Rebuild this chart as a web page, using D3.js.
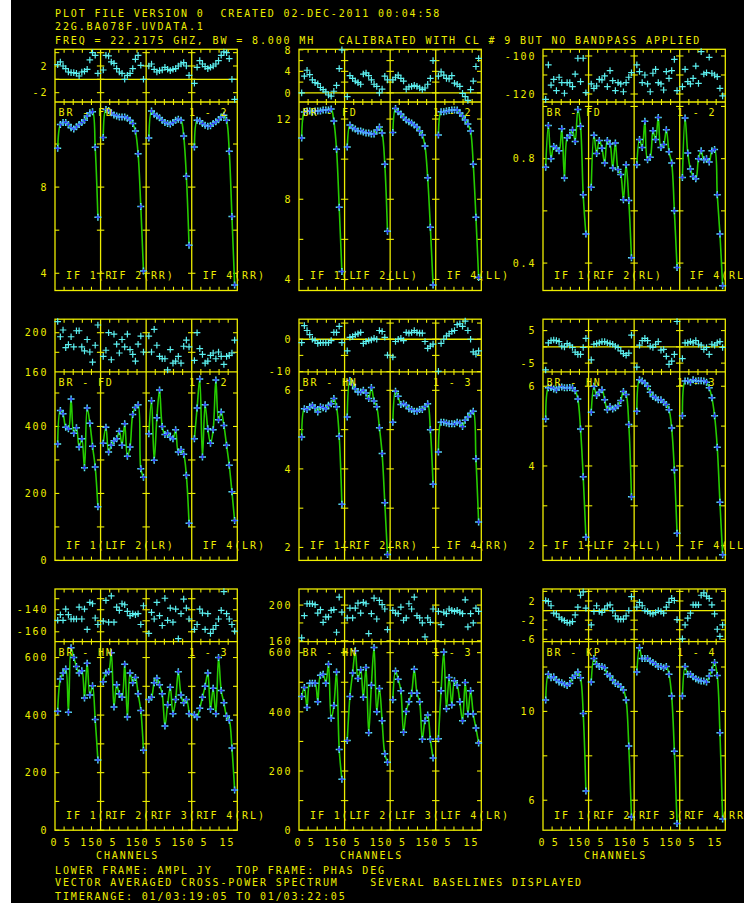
<!DOCTYPE html>
<html><head><meta charset="utf-8">
<script src="https://cdn.jsdelivr.net/npm/d3@7"></script>
<style>html,body{margin:0;padding:0;background:#fff;} svg{display:block} text{white-space:pre}</style>
</head><body>
<script>
// ---------------- DATA (4 IFs x 16 channels each) ----------------
const channels = [1,2,3,4,5,6,7,8,9,10,11,12,13,14,15,16];
const ifNames = ["IF 1","IF 2","IF 3","IF 4"];
const xTickLabels = [0,5,15];

const ampFD_RR = [9.8,10.9,11.0,11.0,10.9,10.75,10.7,10.8,10.9,11.0,11.1,11.3,11.45,11.5,9.85,6.6,
 10.3,11.6,11.55,11.45,11.35,11.3,11.25,11.25,11.25,11.2,11.1,10.95,10.6,9.55,7.1,4.1,
 10.28,11.53,11.38,11.3,11.22,11.1,11.0,10.95,10.93,11.0,11.1,11.15,11.1,10.37,8.5,5.3,
 9.86,11.1,11.07,10.95,10.87,10.82,10.85,10.95,11.03,11.13,11.25,11.33,11.1,9.66,6.64,3.46];
const phsFD_RR = [2.2,2.6,2.0,1.6,1.1,1.0,1.0,0.9,0.5,1.1,1.2,1.5,2.9,4.0,3.6,0.9,
 1.4,3.6,3.5,2.6,2.4,1.6,1.1,0.9,0.0,0.6,0.9,1.6,3.0,3.6,2.1,0.0,
 2.0,2.3,1.5,1.1,1.3,1.4,1.8,1.5,1.3,1.5,1.6,2.0,2.3,2.5,2.0,0.6,
 -0.6,1.8,2.8,2.3,1.9,1.6,1.8,2.0,2.3,2.8,3.6,4.1,4.0,3.1,0.0,-3.0];

const ampFD_LL = [11.05,12.35,12.4,12.4,12.35,12.4,12.4,12.4,12.45,12.45,12.45,12.5,11.9,10.5,7.6,4.4,
 10.6,11.7,11.55,11.5,11.4,11.4,11.35,11.3,11.3,11.25,11.25,11.45,11.6,11.3,9.75,6.4,
 11.33,12.53,12.37,12.25,12.08,11.95,11.87,11.8,11.7,11.6,11.42,11.2,10.65,9.07,6.6,3.73,
 11.2,12.37,12.37,12.4,12.42,12.45,12.45,12.45,12.3,12.15,11.95,11.75,11.4,9.75,7.1,4.1];
const phsFD_LL = [0.0,3.1,4.2,3.4,2.4,1.9,1.7,1.0,0.6,0.2,-0.4,-0.6,0.3,1.4,4.5,8.0,
 -0.7,3.2,2.7,2.2,1.9,1.6,3.5,3.7,3.2,2.4,1.6,1.2,0.0,0.7,3.1,2.4,
 2.4,2.9,3.3,2.7,2.2,0.7,1.1,1.2,1.4,1.2,0.9,0.6,0.9,1.6,2.7,6.0,
 3.1,3.9,3.3,2.7,2.6,3.2,1.8,1.6,1.2,-0.1,-0.7,-1.4,0.6,2.2,4.9,6.4];

const ampFD_RL = [0.767,0.927,0.80,0.847,0.84,0.83,0.915,0.726,0.88,0.89,0.91,0.866,0.988,0.924,0.662,0.511,
 0.69,0.89,0.82,0.87,0.84,0.783,0.87,0.856,0.764,0.86,0.758,0.739,0.643,0.777,0.64,0.42,
 0.777,0.873,0.843,0.943,0.796,0.805,0.907,0.873,0.958,0.843,0.854,0.911,0.826,0.783,0.60,0.383,
 0.728,0.956,0.822,0.76,0.732,0.723,0.80,0.83,0.796,0.80,0.787,0.83,0.835,0.662,0.511,0.313];
const phsFD_RL = [-122.8,-104.7,-115.3,-112.3,-118.2,-111.2,-114,-119.6,-114,-114,-116.1,-109.5,-101.2,-113.5,-101.2,-119.3,
 -114.7,-117,-115.8,-112.3,-112.6,-110.5,-116.1,-107.7,-113,-118.2,-114,-114.7,-118.8,-114,-111.2,-108.8,
 -104.7,-108.2,-114,-110,-114.7,-118.8,-109.1,-107,-114,-114.7,-117.9,-108.2,-111.8,-107.7,-101.8,-118.2,
 -116.1,-107,-113.5,-114.7,-111.8,-105.3,-114.4,-97.7,-109.5,-108.8,-100.7,-109.1,-110,-110.9,-117,-121];

const ampFD_LR = [348,448,438,398,393,482,380,396,339,363,277,455,410,341,279,160,
 350,398,324,344,357,363,386,344,408,311,339,436,457,465,274,248,
 378,477,299,426,509,400,376,380,368,363,390,324,331,317,254,111,
 363,455,542,309,465,393,350,390,539,420,443,403,344,284,205,119];
const phsFD_LR = [211.4,195.9,202.8,184.8,187.9,195.9,185.5,202,202,185.5,181.4,193.1,180.3,170,187.2,207.9,
 175.9,182.1,200,172.4,198.6,188.3,179.3,193.1,185.5,198.6,182.8,177.9,171,188.3,196.6,180.3,
 196.6,180.3,203.4,187.2,175.9,173.4,173.4,162,182.8,169,171,175.9,169,186.2,192.4,185.5,
 171.7,200,183.8,177.9,169,171,176.9,179.3,173.4,180.3,175.9,167.6,175.9,176.9,179.3,192.4];

const ampHN_RR = [4.81,5.53,5.51,5.58,5.62,5.56,5.45,5.58,5.56,5.53,5.62,5.66,5.79,5.58,4.83,3.1,
 5.32,6.25,6.15,6.04,5.96,5.96,6.0,5.93,5.79,6.07,5.73,5.58,5.05,4.39,3.14,1.82,
 5.19,5.98,5.85,5.64,5.66,5.62,5.53,5.51,5.47,5.47,5.51,5.51,5.59,5.66,5.0,3.61,
 4.43,5.19,5.19,5.17,5.15,5.15,5.15,5.19,5.17,5.08,5.24,5.32,5.42,5.47,4.26,2.65];
const phsHN_RR = [-1.05,4.2,2.7,1.4,0,-0.4,-1.3,-1.05,-1.05,-1.05,-1.05,-0.4,2.1,2.1,4.0,-1.05,
 -3.6,0.6,0.8,1.4,1.7,2.1,-1.3,-0.7,-0.4,-0.2,0.3,0,2.7,2.4,0.6,-4.9,
 -5.5,-0.7,0,0.3,-0.4,2.1,1.9,2.1,2.7,2.1,1.9,1.9,-0.7,-2.8,-2.1,-1.5,
 -9.9,-1.3,0,1.05,1.7,2.4,2.7,4.5,4.8,4.0,5.6,2.7,0,-3.9,-4.6,-3.6];

const ampHN_LL = [5.18,5.96,5.97,5.93,5.91,5.97,5.98,5.96,5.96,5.97,5.96,5.89,5.68,4.93,3.73,2.21,
 5.35,6.0,5.77,5.85,5.91,5.66,5.41,5.49,5.43,5.46,5.51,5.64,5.87,5.79,5.04,3.23,
 5.37,6.16,6.13,6.08,6.0,5.85,5.74,5.71,5.66,5.66,5.6,5.54,5.41,4.95,3.9,2.31,
 5.26,6.13,6.13,6.1,6.16,6.13,6.14,6.14,6.13,6.1,5.96,5.71,5.26,4.47,3.09,1.77];
const phsHN_LL = [-7.1,1.25,1.9,2.1,1.9,1.6,0.2,0,1.0,0.5,-0.2,-1.6,-2.3,-2.3,-0.2,2.6,
 -4.0,0.8,1.0,1.25,1.6,1.6,1.25,1.0,0.8,0.2,-0.2,-1.25,-2.1,-2.6,-1.9,3.6,
 -6.25,0.5,1.9,2.6,1.9,0.2,-0.2,0.8,1.6,-1.0,-0.8,-2.9,-5.4,-4.4,-2.3,7.8,
 -3.6,1.25,1.25,1.6,1.25,1.9,0.8,0.5,-0.8,-0.2,-2.3,0.8,0.5,1.25,1.6,-0.2];

const ampHN_RL = [413,525,546,560,410,634,600,569,546,554,459,580,470,502,385,244,
 516,546,551,617,428,505,474,462,577,393,546,512,531,474,416,278,
 454,462,512,528,505,474,362,436,497,405,454,551,470,443,454,405,
 401,393,424,462,500,546,420,493,405,600,485,443,397,382,286,140];
const phsHN_RL = [-149.6,-144.5,-149.6,-139.4,-144.5,-148.4,-148.4,-148.4,-137.6,-148.4,-139.4,-157.9,-133.4,-134.6,-147.5,-153.4,
 -150.4,-131.6,-151.3,-127.5,-151.3,-137.6,-140.6,-134.6,-135.5,-141.5,-145.4,-143.6,-144.5,-143.6,-153.4,-136.4,
 -161.5,-142.4,-148.4,-133.4,-145.4,-154.3,-129.6,-149.6,-138.5,-151.3,-139.4,-166.3,-143.6,-130.4,-138.5,-148.4,
 -157.9,-153.4,-139.4,-143,-157.9,-143.6,-161.5,-157.9,-154.3,-148.4,-140.6,-123.6,-143.6,-148.4,-153.4,-159.4];

const ampHN_LR = [452,482,415,497,497,497,434,524,527,497,561,378,421,535,273,172,
 303,452,531,606,513,542,449,550,329,490,617,400,479,370,258,230,
 441,538,510,471,331,401,434,463,544,463,434,307,370,389,307,244,
 309,471,602,410,516,423,505,490,434,370,499,393,471,393,345,295];
const phsHN_LR = [163.3,188.1,201.5,201.5,201.5,200.4,191.1,194.8,180.7,186.7,186.7,194.1,194.8,169.6,208.9,192,
 185.6,196.7,185.6,196.7,202.2,191.1,203,201.5,168.1,190.4,207.8,184.4,205.2,200.4,195.6,172.6,
 194.1,191.1,190.4,197.8,183,185.6,201.5,195.6,208.9,188.1,185.6,180,164.4,185.6,180.7,195.6,
 193,178.1,192,190.4,195.6,194.1,193,194.1,192,190.4,205.9,175.6,190.4,180,196.7,193];

const ampKP_RR = [10.51,11.67,11.52,11.56,11.41,11.32,11.29,11.22,11.17,11.26,11.52,11.62,11.77,11.52,9.91,6.41,
 11.32,12.38,12.12,12.02,12.02,11.97,11.67,11.59,11.41,11.26,11.22,11.11,10.96,10.51,8.44,5.25,
 11.77,12.87,12.38,12.38,12.38,12.27,12.2,12.12,12.02,12.02,11.97,12.02,11.67,10.69,8.21,4.95,
 10.69,12.02,11.67,11.67,11.56,11.47,11.41,11.37,11.37,11.32,11.59,11.86,12.2,11.62,9.04,5.16];
const phsKP_RR = [2.1,1.9,1.0,-0.55,-0.7,-1.4,-1.8,-2.1,-2.5,-2.6,-2.3,-0.9,0.7,3.2,3.9,0.5,
 -3.0,-0.2,1.0,-0.2,-0.4,0.3,1.0,1.2,0,-1.1,-1.8,-1.8,-1.8,-1.1,0,2.9,
 0.7,1.7,1.0,0,-0.2,-0.55,-0.7,-0.4,0,-0.2,-0.55,0.7,1.7,2.55,2.1,-1.9,
 -5.9,-3.0,-1.6,-0.55,1.2,1.2,1.2,3.2,3.7,3.0,2.55,1.2,-0.7,-3.9,-5.4,-3.0];

const headerLines = ["PLOT FILE VERSION 0  CREATED 02-DEC-2011 00:04:58",
 "22G.BA078F.UVDATA.1",
 "FREQ = 22.2175 GHZ, BW = 8.000 MH   CALIBRATED WITH CL # 9 BUT NO BANDPASS APPLIED"];
const footerLines = ["LOWER FRAME: AMPL JY   TOP FRAME: PHAS DEG",
 "VECTOR AVERAGED CROSS-POWER SPECTRUM    SEVERAL BASELINES DISPLAYED",
 "TIMERANGE: 01/03:19:05 TO 01/03:22:05"];

const panels = [
 {row:0,col:0,base:"BR - FD",pair:"1 - 2",pol:"RR",amp:ampFD_RR,phs:phsFD_RR,ampDom:[3.2,11.95],phDom:[-3.4,4.5],ampTicks:[4,6,8,10],ampLab:[4,8],phTicks:[-2,0,2,4],phLab:[2,-2]},
 {row:0,col:1,base:"BR - FD",pair:"1 - 2",pol:"LL",amp:ampFD_LL,phs:phsFD_LL,ampDom:[3.45,12.85],phDom:[-1.7,8.1],ampTicks:[4,6,8,10,12],ampLab:[4,8,12],phTicks:[0,2,4,6,8],phLab:[0,4,8]},
 {row:0,col:2,base:"BR - FD",pair:"1 - 2",pol:"RL",amp:ampFD_RL,phs:phsFD_RL,ampDom:[0.295,1.017],phDom:[-124.2,-96.5],ampTicks:[0.4,0.6,0.8,1.0],ampLab:[0.4,0.8],phTicks:[-120,-110,-100],phLab:[-100,-120]},
 {row:1,col:0,base:"BR - FD",pair:"1 - 2",pol:"LR",amp:ampFD_LR,phs:phsFD_LR,ampDom:[0,563],phDom:[160,213.8],ampTicks:[0,100,200,300,400,500],ampLab:[0,200,400],phTicks:[160,180,200],phLab:[160,200]},
 {row:1,col:1,base:"BR - HN",pair:"1 - 3",pol:"RR",amp:ampHN_RR,phs:phsHN_RR,ampDom:[1.67,6.47],phDom:[-10.1,6.2],ampTicks:[2,3,4,5,6],ampLab:[2,4,6],phTicks:[-10,-5,0,5],phLab:[0,-10]},
 {row:1,col:2,base:"BR - HN",pair:"1 - 3",pol:"LL",amp:ampHN_LL,phs:phsHN_LL,ampDom:[1.63,6.36],phDom:[-7.7,8.5],ampTicks:[2,3,4,5,6],ampLab:[2,4,6],phTicks:[-5,0,5],phLab:[5,-5]},
 {row:2,col:0,base:"BR - HN",pair:"1 - 3",pol:"RL",amp:ampHN_RL,phs:phsHN_RL,ampDom:[0,655],phDom:[-169,-121.2],ampTicks:[0,100,200,300,400,500,600],ampLab:[0,200,400,600],phTicks:[-160,-150,-140,-130],phLab:[-140,-160]},
 {row:2,col:1,base:"BR - HN",pair:"1 - 3",pol:"LR",amp:ampHN_LR,phs:phsHN_LR,ampDom:[0,637],phDom:[159,218],ampTicks:[0,100,200,300,400,500,600],ampLab:[0,200,400,600],phTicks:[160,180,200],phLab:[160,200]},
 {row:2,col:2,base:"BR - KP",pair:"1 - 4",pol:"RR",amp:ampKP_RR,phs:phsKP_RR,ampDom:[4.65,13.14],phDom:[-6.5,4.5],ampTicks:[6,8,10,12],ampLab:[6,10],phTicks:[-6,-4,-2,0,2,4],phLab:[2,-2,-6]}
];

// ---------------- DRAWING ----------------
const W = 744, H = 905;
const YEL = "#eded00", CYAN = "#5cf0f0", BLUE = "#3535ff", GREEN = "#26cc00";
const FONT = "'DejaVu Sans Mono', 'Liberation Mono', monospace";
const LS = 1.86;
const colX = [55, 299, 543], rowY = [49.3, 319.2, 589];
const FW = 182.3, PH = 52.7, AH = 188.5, IFW = FW / 4;

const svg = d3.select("body").append("svg").attr("width", W).attr("height", H);
svg.append("rect").attr("width", W).attr("height", H).attr("fill", "#fff");
svg.append("rect").attr("x", 11).attr("y", 0).attr("width", W - 11).attr("height", 903).attr("fill", "#000");

function txt(g, x, y, s, anchor) {
  return g.append("text").attr("x", anchor === "end" ? x + LS : x).attr("y", y)
    .attr("text-anchor", anchor || "start").attr("xml:space", "preserve")
    .attr("font-family", FONT).attr("font-size", 10).attr("letter-spacing", LS)
    .attr("fill", YEL).text(s);
}

function plus(sel, x, y, a, color, w) {
  sel.append("path").attr("d", `M${x - a},${y}H${x + a}M${x},${y - a}V${y + a}`)
    .attr("stroke", color).attr("stroke-width", w).attr("fill", "none");
}

panels.forEach(p => {
  const g = svg.append("g").attr("transform", `translate(${colX[p.col]},${rowY[p.row]})`);
  const yPh = d3.scaleLinear().domain(p.phDom).range([PH, 0]);
  const yAmp = d3.scaleLinear().domain(p.ampDom).range([PH + AH, PH]);
  const xIF = ifNames.map((_, k) => d3.scaleLinear().domain([0, 17]).range([k * IFW, (k + 1) * IFW]));
  const fr = g.append("g").attr("stroke", YEL).attr("stroke-width", 1.3).attr("fill", "none");
  fr.append("rect").attr("x", 0).attr("y", 0).attr("width", FW).attr("height", PH + AH);
  fr.append("line").attr("x1", 0).attr("x2", FW).attr("y1", PH).attr("y2", PH);
  for (let k = 1; k < 4; k++) fr.append("line").attr("x1", k * IFW).attr("x2", k * IFW).attr("y1", 0).attr("y2", PH + AH);
  if (p.phDom[0] < 0 && p.phDom[1] > 0) fr.append("line").attr("x1", 0).attr("x2", FW).attr("y1", yPh(0)).attr("y2", yPh(0));
  // y ticks
  const yt = fr.append("g").attr("stroke-width", 1.1);
  const yTick = y => {
    yt.append("line").attr("x1", 0).attr("x2", 4.3).attr("y1", y).attr("y2", y);
    yt.append("line").attr("x1", FW - 4.3).attr("x2", FW).attr("y1", y).attr("y2", y);
    for (let k = 1; k < 4; k++) yt.append("line").attr("x1", k * IFW - 3.7).attr("x2", k * IFW + 3.7).attr("y1", y).attr("y2", y);
  };
  p.phTicks.filter(t => t > p.phDom[0] && t < p.phDom[1]).forEach(t => yTick(yPh(t)));
  p.ampTicks.filter(t => t >= p.ampDom[0] && t < p.ampDom[1]).forEach(t => yTick(yAmp(t)));
  // x ticks at fifths of each IF
  for (let k = 0; k < 4; k++) for (let j = 1; j < 5; j++) {
    const x = k * IFW + j * IFW / 5;
    yt.append("line").attr("x1", x).attr("x2", x).attr("y1", 0).attr("y2", 3.5);
    yt.append("line").attr("x1", x).attr("x2", x).attr("y1", PH - 3).attr("y2", PH + 3);
    yt.append("line").attr("x1", x).attr("x2", x).attr("y1", PH + AH - 3.8).attr("y2", PH + AH);
  }
  // y labels
  p.phLab.forEach(t => txt(g, -8.5, yPh(t) + 3.7, String(t), "end"));
  p.ampLab.forEach(t => txt(g, -8.5, yAmp(t) + 3.7, String(t), "end"));

  // data
  const line = d3.line().curve(d3.curveCatmullRom.alpha(0.5));
  ifNames.forEach((nm, k) => {
    const a = channels.map((c, i) => [xIF[k](c), yAmp(p.amp[k * 16 + i])]);
    g.append("path").attr("d", line(a)).attr("fill", "none").attr("stroke", GREEN).attr("stroke-width", 1.6);
  });
  const mk = g.append("g");
  ifNames.forEach((nm, k) => {
    channels.forEach((c, i) => {
      const x = xIF[k](c);
      const ya = yAmp(p.amp[k * 16 + i]);
      plus(mk, x, ya, 3.5, CYAN, 1.5);
      plus(mk, x, ya, 2.2, BLUE, 1.0);
      plus(mk, x, yPh(p.phs[k * 16 + i]), 3.3, CYAN, 1.2);
    });
  });

  // labels inside
  txt(g, 3.5, PH + 14.3, p.base);
  txt(g, 134, PH + 14.3, p.pair);
  const by = PH + AH - 11.4;
  const p0 = p.pol[0];
  const lastLab = p.col === 2 ? ifNames[3] + "(" + p.pol : ifNames[3] + "(" + p.pol + ")";
  const lastX = p.col === 2 ? 3 * IFW + 10 : 3 * IFW + 11;
  if (p.row < 2) {
    txt(g, 11, by, ifNames[0] + "(" + p0);
    txt(g, IFW + 11, by, ifNames[1] + "(" + p.pol + ")");
    txt(g, lastX, by, lastLab);
  } else {
    for (let k = 0; k < 3; k++) txt(g, k * IFW + 11, by, ifNames[k] + "(" + p0);
    txt(g, lastX, by, lastLab);
    // x axis labels ("15" of one IF runs into "0" of the next)
    const ly = PH + AH + 15.7;
    txt(g, xIF[0](xTickLabels[0]) + 1.5, ly, String(xTickLabels[0]), "end");
    for (let k = 0; k < 4; k++) {
      txt(g, xIF[k](xTickLabels[1]) + 1.5, ly, String(xTickLabels[1]), "end");
      if (k < 3) txt(g, xIF[k + 1](xTickLabels[0]) + 1.5, ly, String(xTickLabels[2]) + String(xTickLabels[0]), "end");
      else txt(g, xIF[k](xTickLabels[2]) + 1.5, ly, String(xTickLabels[2]), "end");
    }
    txt(g, 41, PH + AH + 28.6, "CHANNELS");
  }
});

headerLines.forEach((s, i) => txt(svg, 55, [17, 29.7, 43.6][i], s));
footerLines.forEach((s, i) => txt(svg, 55, [873.6, 886.4, 899.6][i], s));
</script>
</body></html>
